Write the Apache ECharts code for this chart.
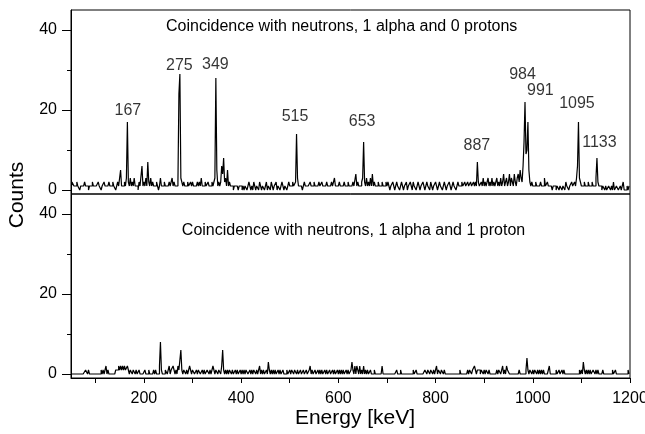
<!DOCTYPE html>
<html>
<head>
<meta charset="utf-8">
<script src="https://cdn.jsdelivr.net/npm/echarts@6/dist/echarts.min.js"></script>
<style>
  html, body { margin: 0; padding: 0; background: #ffffff; }
  #chart { width: 645px; height: 434px; }
</style>
</head>
<body>
<div id="chart"></div>
<script>
// Gamma spectra in 2 keV bins, first bin starting at 50 keV (25 bins per row = 50 keV)
const binStart = 50;
const binWidth = 2;

// Neutrons + 1 alpha + 0 protons
const countsZeroProtons = [
  1,2,2,1,1,1,2,1,1,0,1,1,1,1,2,1,1,1,0,1,1,1,2,1,1,      //   50
  1,1,1,2,1,1,0,1,1,2,1,1,1,1,2,1,1,1,2,1,1,0,1,2,1,      //  100
  1,5,1,1,1,2,1,3,17,2,1,3,1,2,1,3,1,1,1,0,2,1,1,6,1,     //  150
  2,1,3,1,7,2,1,3,1,2,1,1,1,2,1,0,1,3,1,1,1,2,1,1,1,      //  200
  1,2,1,1,3,1,2,1,1,1,2,24,29,3,2,1,2,1,1,1,2,1,1,2,1,    //  250
  2,1,1,1,1,2,1,2,1,3,1,1,1,2,1,1,2,1,1,1,2,1,2,3,28,     //  300
  5,1,2,1,2,6,4,8,2,3,1,5,1,2,1,1,1,0,1,1,1,1,0,1,1,      //  350
  1,0,1,0,1,1,0,1,2,1,0,1,0,2,1,0,1,1,0,2,1,0,1,1,0,      //  400
  1,2,0,1,1,0,2,1,0,1,1,2,0,1,1,0,1,2,1,0,1,1,0,1,2,      //  450
  1,1,1,2,1,1,2,14,3,1,1,1,1,0,1,2,1,1,1,1,1,2,1,1,1,     //  500
  2,1,1,1,1,2,1,1,2,1,1,1,1,2,1,1,1,1,2,1,1,3,1,1,1,      //  550
  1,2,1,1,1,1,2,1,1,1,2,1,1,1,1,2,1,1,4,1,2,1,1,1,2,      //  600
  3,12,2,1,3,1,2,1,3,1,4,1,2,1,1,1,2,1,1,1,2,1,1,1,2,     //  650
  1,2,1,0,1,1,2,1,0,1,2,1,1,0,1,2,1,0,1,1,2,0,1,1,2,      //  700
  1,0,2,1,1,0,1,2,1,0,1,1,2,1,0,1,2,1,1,0,2,1,0,1,1,      //  750
  2,1,0,1,2,1,1,0,1,2,1,0,1,1,2,1,0,1,2,1,1,0,1,2,1,      //  800
  1,1,2,1,1,2,1,1,2,1,1,2,1,1,2,1,2,1,7,2,1,1,2,1,3,      //  850
  1,2,1,1,3,1,2,1,3,1,2,1,1,3,1,2,1,3,1,2,4,1,2,3,1,      //  900
  2,4,1,3,2,1,4,2,1,3,4,2,5,3,2,6,12,22,9,10,17,5,2,1,2,  //  950
  1,1,1,2,1,1,1,1,2,1,1,1,3,1,1,2,1,1,1,1,0,1,1,1,0,      // 1000
  1,1,0,1,1,0,1,1,0,2,1,1,0,1,1,2,1,1,2,1,3,6,17,3,2,     // 1050
  1,1,1,2,1,1,1,2,1,1,1,2,1,1,1,3,8,2,1,1,1,0,1,1,0,      // 1100
  1,0,0,1,1,0,1,0,2,0,0,1,1,0,0,1,0,0,2,0,0,0,1,0,1       // 1150
];

// Neutrons + 1 alpha + 1 proton
const countsOneProton = [
  0,0,0,0,0,0,0,0,0,0,0,0,0,0,0,1,1,0,1,0,0,0,0,0,0,      //   50
  0,0,0,0,0,0,1,0,1,0,1,2,0,1,0,0,0,0,0,0,0,1,1,1,2,      //  100
  1,2,1,2,1,2,1,1,2,1,0,1,1,0,1,1,0,1,0,0,1,0,0,0,0,      //  150
  0,1,0,0,0,1,0,0,0,0,1,0,1,0,0,0,2,8,1,0,0,0,1,1,0,      //  200
  1,2,0,1,1,2,1,0,1,0,2,1,1,6,1,0,1,1,0,1,0,1,2,1,0,      //  250
  1,1,0,0,1,0,1,1,0,0,1,0,1,0,0,1,1,0,1,0,1,2,1,0,1,      //  300
  1,0,1,1,0,2,6,1,0,1,0,1,0,1,1,0,1,0,0,1,0,1,0,0,1,      //  350
  0,1,0,1,0,1,1,0,0,1,0,1,0,1,1,0,1,0,1,2,0,1,0,1,0,      //  400
  0,1,0,3,1,0,1,0,1,0,1,0,0,1,0,1,0,0,1,0,0,0,1,0,0,      //  450
  1,0,1,1,0,1,1,0,1,0,0,1,0,0,1,0,0,1,0,0,1,2,0,1,0,      //  500
  0,1,0,0,1,0,1,0,1,0,0,1,0,1,0,0,1,0,0,1,0,1,0,0,1,      //  550
  0,1,0,1,0,1,0,0,1,0,1,0,0,1,3,1,0,2,0,2,1,0,2,0,1,      //  600
  0,2,0,1,0,1,0,0,1,0,0,0,1,0,0,0,0,0,0,0,2,0,0,0,0,      //  650
  0,0,0,0,0,0,0,0,0,0,1,0,0,0,1,0,0,0,0,0,0,0,0,0,0,      //  700
  0,0,1,0,0,1,0,0,0,0,0,0,0,0,1,1,0,1,1,0,1,1,0,1,0,      //  750
  1,2,0,1,1,0,1,1,0,1,0,0,0,0,0,0,0,0,0,0,0,0,0,0,0,      //  800
  1,0,0,0,0,0,0,0,1,0,1,1,0,1,1,2,1,0,1,1,1,0,1,1,0,      //  850
  1,0,1,1,0,1,0,0,0,0,0,0,0,1,0,1,1,0,1,2,0,1,0,2,1,      //  900
  1,0,0,0,0,0,0,0,0,0,0,1,0,0,0,0,0,0,1,4,1,0,1,1,0,      //  950
  1,0,1,1,0,1,0,1,0,1,0,1,0,0,0,0,1,2,0,0,0,0,0,0,1,      // 1000
  0,0,1,0,0,1,0,1,0,0,0,0,0,0,0,0,0,0,0,0,0,0,0,1,0,      // 1050
  1,0,3,1,0,1,0,1,0,1,0,0,1,1,0,1,0,1,0,0,0,0,1,0,0,      // 1100
  0,0,0,0,0,0,0,1,0,0,1,0,0,0,0,0,0,0,0,0,0,0,0,1,0       // 1150
];

// Labelled gamma lines (keV)
const peakEnergies = [167, 275, 349, 515, 653, 887, 984, 991, 1095, 1133];

const panelTitles = [
  'Coincidence with neutrons, 1 alpha and 0 protons',
  'Coincidence with neutrons, 1 alpha and 1 proton'
];
const xTickLabels = [200, 400, 600, 800, 1000, 1200];
const xMinorTicks = [100, 300, 500, 700, 900, 1100];
const yTickLabels = [0, 20, 40];
const yMinorTicks = [10, 30];

// Label placement (pixels from the top of each peak)
const peakLabelOffsets = [
  [0, -11], [-1, -8], [-1, -13], [-2, -17], [-2, -20],
  [-1, -16], [-3, -27], [12, -31], [-2, -18], [2, -15]
];

const FONT = 'Liberation Sans, Arial, Helvetica, sans-serif';

function toSeries(counts) {
  return counts.map((c, i) => [binStart + binWidth * i + binWidth / 2, c]);
}
function binIndex(energy) {
  return Math.floor((energy - binStart) / binWidth);
}

const gridBox = {
  left: 71, width: 559, height: 184,
  show: true, borderColor: '#000', borderWidth: 1,
  containLabel: false, outerBoundsMode: 'none'
};

function mainYAxis(gridIndex) {
  return {
    gridIndex, type: 'value', min: -1, max: 45,
    axisLine: { show: true, onZero: false, lineStyle: { color: '#000', width: 1 } },
    axisTick: { show: true, length: 9, customValues: yTickLabels, lineStyle: { color: '#000', width: 1 } },
    axisLabel: { show: true, customValues: yTickLabels, margin: 14, fontSize: 16, color: '#000', fontFamily: FONT },
    splitLine: { show: false }
  };
}
function minorYAxis(gridIndex) {
  return {
    gridIndex, type: 'value', min: -1, max: 45, position: 'left',
    axisLine: { show: false },
    axisTick: { show: true, length: 4, customValues: yMinorTicks, lineStyle: { color: '#000', width: 1 } },
    axisLabel: { show: false },
    splitLine: { show: false }
  };
}

const spectrumLine = { color: '#000', width: 1.2 };

const chart = echarts.init(document.getElementById('chart'), null, { renderer: 'canvas' });

chart.setOption({
  animation: false,
  backgroundColor: '#ffffff',
  grid: [
    Object.assign({ top: 10 }, gridBox),
    Object.assign({ top: 194 }, gridBox)
  ],
  xAxis: [
    {
      gridIndex: 0, type: 'value', min: 50, max: 1200,
      axisLine: { show: false }, axisTick: { show: false },
      axisLabel: { show: false }, splitLine: { show: false }
    },
    {
      gridIndex: 1, type: 'value', min: 50, max: 1200,
      axisLine: { show: true, onZero: false, lineStyle: { color: '#000', width: 1 } },
      axisTick: { show: true, length: 5, customValues: xTickLabels.concat(xMinorTicks), lineStyle: { color: '#000', width: 1 } },
      axisLabel: {
        show: true, customValues: xTickLabels, margin: 13, fontSize: 16, color: '#000', fontFamily: FONT,
        formatter: v => String(v)
      },
      splitLine: { show: false }
    }
  ],
  yAxis: [mainYAxis(0), minorYAxis(0), mainYAxis(1), minorYAxis(1)],
  series: [
    {
      type: 'line', xAxisIndex: 0, yAxisIndex: 0, step: 'middle',
      symbol: 'none', lineStyle: spectrumLine,
      data: toSeries(countsZeroProtons)
    },
    {
      type: 'line', xAxisIndex: 1, yAxisIndex: 2, step: 'middle',
      symbol: 'none', lineStyle: spectrumLine,
      data: toSeries(countsOneProton)
    },
    {
      type: 'scatter', xAxisIndex: 0, yAxisIndex: 0, symbolSize: 0, silent: true,
      data: peakEnergies.map((e, i) => ({
        name: String(e),
        value: [binStart + binWidth * binIndex(e) + binWidth / 2, countsZeroProtons[binIndex(e)]],
        label: { offset: peakLabelOffsets[i] }
      })),
      label: {
        show: true, position: 'inside', formatter: p => p.name,
        fontSize: 16, color: '#000', fontFamily: FONT,
        align: 'center', verticalAlign: 'middle'
      }
    }
  ],
  graphic: [
    { type: 'text', x: 341.7, y: 27, style: { text: panelTitles[0], font: '16px ' + FONT, fill: '#000', align: 'center', verticalAlign: 'middle' } },
    { type: 'text', x: 353.5, y: 231, style: { text: panelTitles[1], font: '16px ' + FONT, fill: '#000', align: 'center', verticalAlign: 'middle' } },
    { type: 'text', x: 17.5, y: 195, rotation: Math.PI / 2, style: { text: 'Counts', font: '21px ' + FONT, fill: '#000', align: 'center', verticalAlign: 'middle' } },
    { type: 'text', x: 355, y: 418, style: { text: 'Energy [keV]', font: '21px ' + FONT, fill: '#000', align: 'center', verticalAlign: 'middle' } }
  ]
});
</script>
</body>
</html>
